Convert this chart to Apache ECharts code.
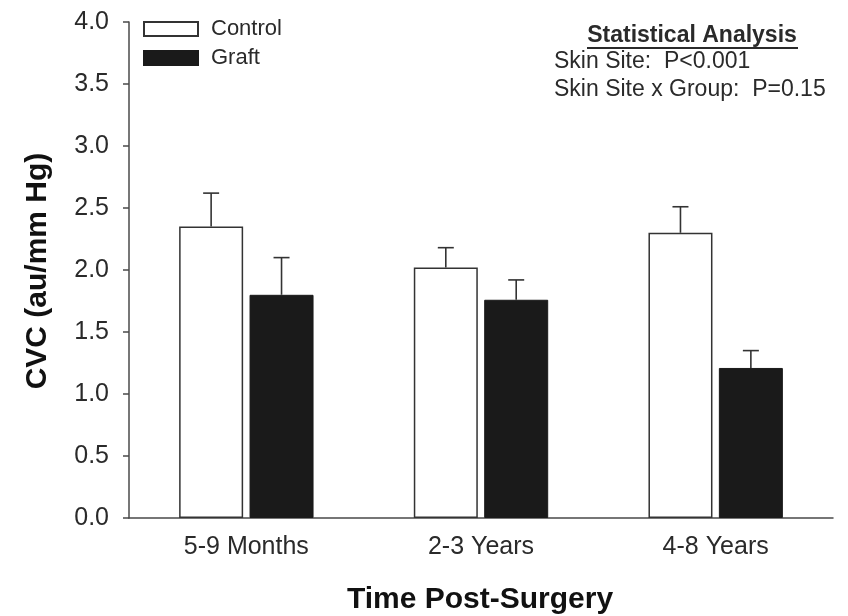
<!DOCTYPE html>
<html>
<head>
<meta charset="utf-8">
<script src="https://cdn.jsdelivr.net/npm/echarts@6/dist/echarts.min.js"></script>
<style>html,body{margin:0;padding:0;background:#fff;}#c{width:848px;height:616px;}</style>
</head>
<body>
<div id="c"></div>
<script>
const categories = ['5-9 Months', '2-3 Years', '4-8 Years'];
const controlMean = [2.35, 2.02, 2.30];
const controlUpper = [2.62, 2.18, 2.51];
const graftMean = [1.80, 1.76, 1.21];
const graftUpper = [2.10, 1.92, 1.35];
const yTicks = { min: 0, max: 4, interval: 0.5 };

const FONT = '"Liberation Sans", Arial, sans-serif';
const TXT = '#2a2a2a';
const AX = '#4a4a4a';
const BAR_W = 64;
const GAP = 6.4;

function errData(means, uppers) {
  return categories.map((c, i) => [i, means[i], uppers[i]]);
}
function errSeries(name, means, uppers, sign) {
  return {
    type: 'custom',
    name: name + ' err',
    z: 5,
    data: errData(means, uppers),
    renderItem: function (params, api) {
      const i = api.value(0);
      const base = api.coord([i, api.value(1)]);
      const top = api.coord([i, api.value(2)]);
      const x = base[0] + sign * (BAR_W + GAP) / 2;
      const cap = 8;
      const st = { stroke: '#333', lineWidth: 1.6 };
      return {
        type: 'group',
        children: [
          { type: 'line', shape: { x1: x, y1: base[1], x2: x, y2: top[1] }, style: st },
          { type: 'line', shape: { x1: x - cap, y1: top[1], x2: x + cap, y2: top[1] }, style: st }
        ]
      };
    }
  };
}

const chart = echarts.init(document.getElementById('c'), null, { renderer: 'canvas' });
chart.setOption({
  animation: false,
  backgroundColor: '#fff',
  textStyle: { fontFamily: FONT },
  grid: { left: 129, right: 15, top: 22, bottom: 98 },
  legend: {
    data: ['Control', 'Graft'],
    orient: 'vertical',
    left: 143, top: 18,
    padding: 0,
    itemWidth: 54, itemHeight: 14, itemGap: 7,
    icon: 'rect',
    selectedMode: false,
    textStyle: { fontSize: 22, color: TXT, fontFamily: FONT, padding: [0, 0, 0, 8] }
  },
  xAxis: {
    type: 'category',
    data: categories,
    axisLine: { lineStyle: { color: AX, width: 1.5 } },
    axisTick: { show: false },
    axisLabel: { fontSize: 25, color: TXT, margin: 17, fontFamily: FONT }
  },
  yAxis: {
    type: 'value',
    min: yTicks.min, max: yTicks.max, interval: yTicks.interval,
    splitLine: { show: false },
    axisLine: { show: true, lineStyle: { color: AX, width: 1.5 } },
    axisTick: { show: true, length: 6, lineStyle: { color: AX, width: 1.5 } },
    axisLabel: { fontSize: 25, color: TXT, margin: 20, fontFamily: FONT, formatter: v => v.toFixed(1) }
  },
  series: [
    {
      name: 'Control', type: 'bar', data: controlMean, barWidth: BAR_W, barGap: '10%',
      itemStyle: { color: '#fff', borderColor: '#333', borderWidth: 1.5 }
    },
    {
      name: 'Graft', type: 'bar', data: graftMean, barWidth: BAR_W,
      itemStyle: { color: '#1a1a1a', borderColor: '#1a1a1a', borderWidth: 1 }
    },
    errSeries('Control', controlMean, controlUpper, -1),
    errSeries('Graft', graftMean, graftUpper, 1)
  ],
  graphic: [
    { type: 'text', x: 692, y: 36, style: { text: 'Statistical Analysis', font: 'bold 23px ' + FONT, fill: TXT, align: 'center', verticalAlign: 'middle' } },
    { type: 'rect', shape: { x: 587, y: 47, width: 211, height: 2 }, style: { fill: TXT } },
    { type: 'text', x: 554, y: 62, style: { text: 'Skin Site:  P<0.001', font: '23px ' + FONT, fill: TXT, align: 'left', verticalAlign: 'middle' } },
    { type: 'text', x: 554, y: 90, style: { text: 'Skin Site x Group:  P=0.15', font: '23px ' + FONT, fill: TXT, align: 'left', verticalAlign: 'middle' } },
    { type: 'text', x: 38, y: 271, rotation: Math.PI / 2, style: { text: 'CVC (au/mm Hg)', font: 'bold 30px ' + FONT, fill: '#111', align: 'center', verticalAlign: 'middle' } },
    { type: 'text', x: 480, y: 600, style: { text: 'Time Post-Surgery', font: 'bold 30px ' + FONT, fill: '#111', align: 'center', verticalAlign: 'middle' } }
  ]
});
</script>
</body>
</html>
